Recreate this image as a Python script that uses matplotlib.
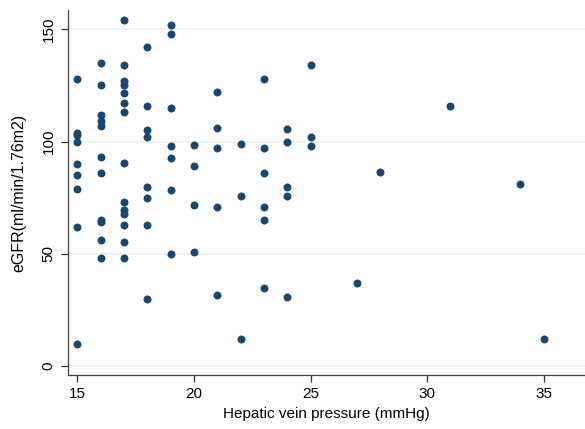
import matplotlib
matplotlib.use('Agg')
import matplotlib.pyplot as plt

# hepatic vein pressure (mmHg) per patient, grouped by value
pressure = ([15] * 9 + [16] * 11 + [17] * 14 + [18] * 8 + [19] * 7 + [20] * 4
            + [21] * 5 + [22] * 3 + [23] * 6 + [24] * 5 + [25] * 3
            + [27, 28, 31, 34, 35])

# eGFR values, same order
egfr = [128, 104, 103, 100, 90, 85, 79, 62, 10,
        135, 125, 112, 109, 107, 93, 86, 65, 64, 56, 48,
        154, 134, 127, 125, 121.5, 117, 113, 90.5, 73, 69.5, 68, 63, 55.5, 48,
        142, 116, 105, 102, 80, 75, 63, 30,
        152, 148, 115, 98, 92.5, 78.5, 50,
        98.5, 89, 72, 51,
        122, 106, 97, 71, 31.5,
        99, 76, 12,
        128, 97, 86, 71, 65, 35,
        105.5, 100, 80, 76, 31,
        134, 102, 98,
        37, 86.5, 116, 81, 12]

xticks = [15, 20, 25, 30, 35]
yticks = [0, 50, 100, 150]

plt.rcParams['font.family'] = ['Liberation Sans', 'DejaVu Sans']

fig = plt.figure(figsize=(5.85, 4.29), dpi=100)
ax = fig.add_axes([68 / 585, (429 - 375) / 429, (585 - 68) / 585, (375 - 10) / 429])

ax.scatter(pressure, egfr, s=33, color='#1a476f', linewidths=0, zorder=3)

ax.set_xlim(14.6, 36.77)
ax.set_ylim(-3.9, 158.6)
ax.set_xticks(xticks)
ax.set_yticks(yticks)
ax.grid(axis='y', color='#eaf2f3', linewidth=1.2, zorder=0)
ax.set_axisbelow(True)

for s in ['top', 'right']:
    ax.spines[s].set_visible(False)
for s in ['left', 'bottom']:
    ax.spines[s].set_color('#444444')
    ax.spines[s].set_linewidth(0.9)

ax.tick_params(axis='both', direction='out', length=5, width=0.9, color='#333333',
               labelsize=11, pad=4)
plt.setp(ax.get_yticklabels(), rotation=90, va='center')

ax.set_xlabel('Hepatic vein pressure (mmHg)', fontsize=11, labelpad=4)
ax.set_ylabel('eGFR(ml/min/1.76m2)', fontsize=11.5, labelpad=11)

fig.savefig('out.png', dpi=100)
